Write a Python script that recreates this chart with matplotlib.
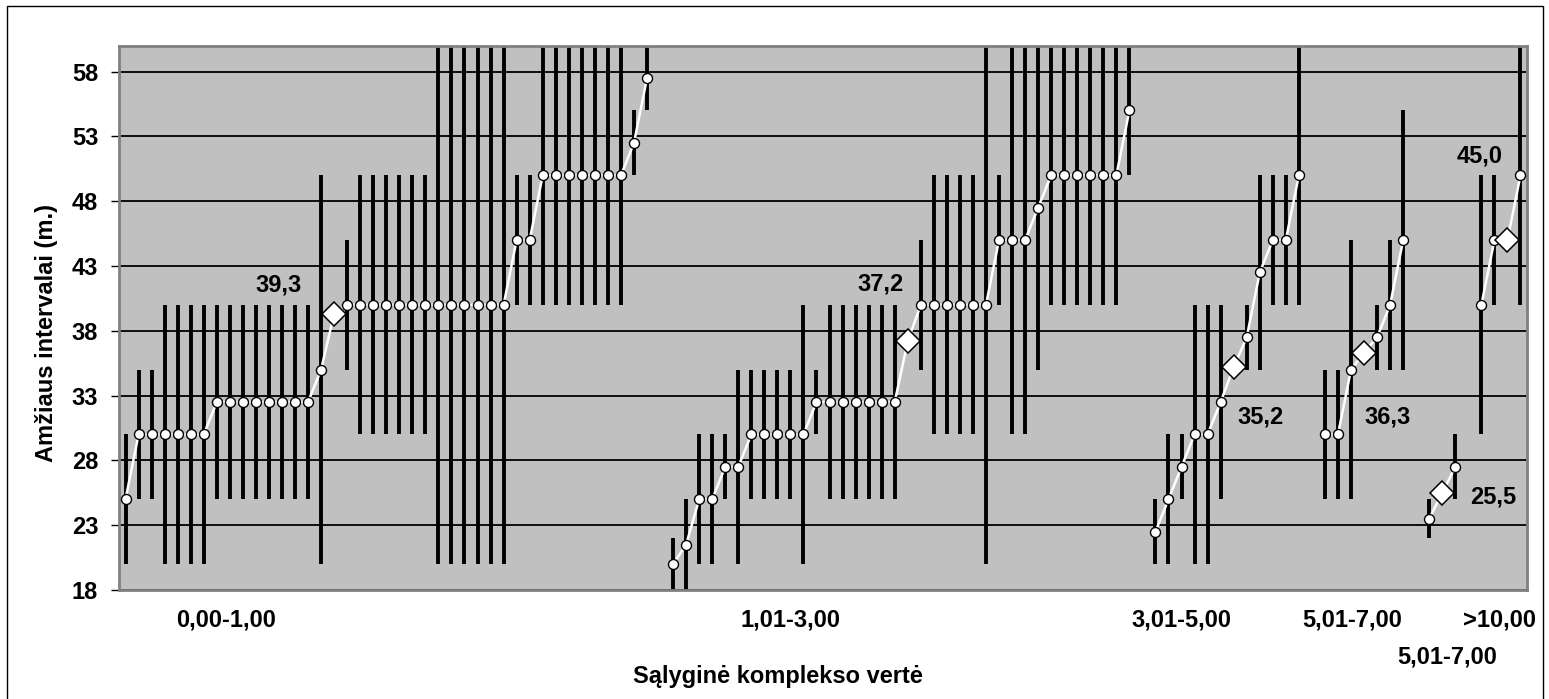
import numpy as np
import matplotlib.pyplot as plt
from matplotlib.patches import Rectangle

# age intervals (low / high bound) and interval midpoints for each person,
# grouped by the conditional complex value
g1_lo = [20, 25, 25, 20, 20, 20, 20, 25, 25, 25, 25, 25, 25, 25, 25, 20,
         35, 30, 30, 30, 30, 30, 30, 20, 20, 20, 20, 20, 20,
         40, 40, 40, 40, 40, 40, 40, 40, 40, 50, 55]
g1_hi = [30, 35, 35, 40, 40, 40, 40, 40, 40, 40, 40, 40, 40, 40, 40, 50,
         45, 50, 50, 50, 50, 50, 50, 60, 60, 60, 60, 60, 60,
         50, 50, 60, 60, 60, 60, 60, 60, 60, 55, 60]
g1_mid = [25, 30, 30, 30, 30, 30, 30, 32.5, 32.5, 32.5, 32.5, 32.5, 32.5, 32.5, 32.5, 35,
          40, 40, 40, 40, 40, 40, 40, 40, 40, 40, 40, 40, 40,
          45, 45, 50, 50, 50, 50, 50, 50, 50, 52.5, 57.5]

g2_lo = [18, 18, 20, 20, 25, 20, 25, 25, 25, 25, 20, 30, 25, 25, 25, 25, 25, 25,
         35, 30, 30, 30, 30, 20, 40, 30, 30, 35, 40, 40, 40, 40, 40, 40, 50]
g2_hi = [22, 25, 30, 30, 30, 35, 35, 35, 35, 35, 40, 35, 40, 40, 40, 40, 40, 40,
         45, 50, 50, 50, 50, 60, 50, 60, 60, 60, 60, 60, 60, 60, 60, 60, 60]
g2_mid = [20, 21.5, 25, 25, 27.5, 27.5, 30, 30, 30, 30, 30, 32.5, 32.5, 32.5, 32.5, 32.5, 32.5, 32.5,
          40, 40, 40, 40, 40, 40, 45, 45, 45, 47.5, 50, 50, 50, 50, 50, 50, 55]

g3_lo = [20, 20, 25, 20, 20, 25, 35, 35, 40, 40, 40]
g3_hi = [25, 30, 30, 40, 40, 40, 40, 50, 50, 50, 60]
g3_mid = [22.5, 25, 27.5, 30, 30, 32.5, 37.5, 42.5, 45, 45, 50]

g4_lo = [25, 25, 25, 35, 35, 35]
g4_hi = [35, 35, 45, 40, 45, 55]
g4_mid = [30, 30, 35, 37.5, 40, 45]

g5_lo = [22, 25]
g5_hi = [25, 30]
g5_mid = [23.5, 27.5]

g6_lo = [30, 40, 40]
g6_hi = [50, 50, 60]
g6_mid = [40, 45, 50]

group_means = [39.3, 37.2, 35.2, 36.3, 25.5, 45.0]
mean_slot = [16, 18, 6, 3, 1, 2]   # where the mean sits inside its group

cat_labels = ["0,00-1,00", "1,01-3,00", "3,01-5,00", "5,01-7,00", ">10,00"]

groups_lo = [g1_lo, g2_lo, g3_lo, g4_lo, g5_lo, g6_lo]
groups_hi = [g1_hi, g2_hi, g3_hi, g4_hi, g5_hi, g6_hi]
groups_mid = [g1_mid, g2_mid, g3_mid, g4_mid, g5_mid, g6_mid]

# build one long category series, with an empty slot between groups
lo_all, hi_all, mid_all, is_mean = [], [], [], []
for k in range(len(groups_mid)):
    lo = list(groups_lo[k])
    hi = list(groups_hi[k])
    mid = list(groups_mid[k])
    s = mean_slot[k]
    lo.insert(s, np.nan)
    hi.insert(s, np.nan)
    mid.insert(s, group_means[k])
    flags = [False] * len(mid)
    flags[s] = True
    lo_all += lo
    hi_all += hi
    mid_all += mid
    is_mean += flags
    if k < len(groups_mid) - 1:
        lo_all.append(np.nan)
        hi_all.append(np.nan)
        mid_all.append(np.nan)
        is_mean.append(False)

lo_all = np.array(lo_all, dtype=float)
hi_all = np.array(hi_all, dtype=float)
mid_all = np.array(mid_all, dtype=float)
is_mean = np.array(is_mean)
x = np.arange(len(mid_all))

plt.rcParams['font.family'] = ['Liberation Sans', 'DejaVu Sans']
plt.rcParams['font.weight'] = 'bold'
FS = 17

W, H = 1549, 699
fig = plt.figure(figsize=(W / 100, H / 100), dpi=100)
ax = fig.add_axes([119 / W, 1 - 590 / H, (1527 - 119) / W, (590 - 45.7) / H])
ax.set_facecolor('#c0c0c0')

has_bar = ~np.isnan(lo_all)
ax.vlines(x[has_bar], lo_all[has_bar], hi_all[has_bar], color='black', lw=2.8, zorder=2)
ax.plot(x, mid_all, color='white', lw=1.8, zorder=3)
circ = ~is_mean & ~np.isnan(mid_all)
ax.plot(x[circ], mid_all[circ], 'o', ms=7.2, mfc='white', mec='black', mew=1.0, ls='none', zorder=4)
ax.plot(x[is_mean], mid_all[is_mean], 'D', ms=12, mfc='white', mec='black', mew=1.1, ls='none', zorder=5)

# labels of the group means
lab_x = [11.7, 57.9, 87.1, 96.8, 104.9, 103.9]
lab_y = [41.5, 41.6, 31.35, 31.35, 25.15, 51.5]
for v, lx, ly in zip(group_means, lab_x, lab_y):
    ax.text(lx, ly, f"{v:.1f}".replace('.', ','), ha='center', va='center',
            fontsize=FS, fontweight='bold', zorder=6)

ax.set_xlim(-0.5, len(x) - 0.5)
ax.set_ylim(18, 60)
ax.set_yticks(np.arange(18, 59, 5))
ax.yaxis.grid(True, color='black', lw=1.3)
ax.set_axisbelow(True)
ax.tick_params(axis='y', length=6, width=1, color='black', pad=9, labelsize=FS)

ax.set_xticks([7.7, 51.0, 81.0, 94.1, 105.4])
ax.set_xticklabels(cat_labels)
ax.tick_params(axis='x', length=0, pad=13, labelsize=FS)

for sp in ax.spines.values():
    sp.set_color('#808080')
    sp.set_linewidth(2)

fig.text(1447 / W, 1 - 657 / H, "5,01-7,00", ha='center', va='center', fontsize=FS, fontweight='bold')
fig.text(778 / W, 1 - 677 / H, "Sąlyginė komplekso vertė", ha='center', va='center',
         fontsize=FS, fontweight='bold')
fig.text(47 / W, 1 - 333 / H, "Amžiaus intervalai (m.)", ha='center', va='center',
         rotation=90, fontsize=FS, fontweight='bold')

fig.patches.append(Rectangle((7.5 / W, -0.02), (1543 - 7.5) / W, (H - 6) / H + 0.02,
                             transform=fig.transFigure, fill=False, ec='black', lw=1))

fig.savefig('out.png', dpi=100)
